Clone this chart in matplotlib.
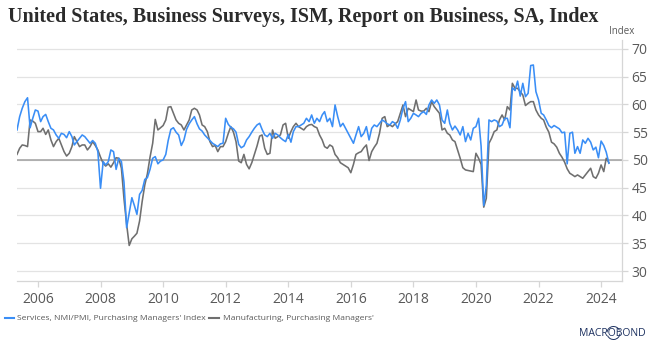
import matplotlib
matplotlib.use("Agg")
import matplotlib.pyplot as plt
import matplotlib.dates as mdates
from matplotlib.patches import Arc
import pandas as pd

# ISM Services PMI, monthly, May 2005 - Apr 2024
services = [
    55.4, 57.8, 59.3, 60.5, 61.2, 55.8, 57.5, 59.0,                      # 2005 (May-Dec)
    58.8, 56.9, 57.8, 58.2, 56.9, 55.7, 55.4, 54.5, 53.9, 54.8, 54.6, 54.0,  # 2006
    55.1, 54.2, 52.7, 53.3, 53.9, 54.5, 54.2, 53.6, 53.0, 53.5, 53.0, 51.5,  # 2007
    44.9, 49.7, 49.1, 49.7, 51.8, 51.5, 48.3, 50.3, 49.7, 46.0, 37.8, 40.5,  # 2008
    43.2, 41.7, 40.2, 43.8, 44.5, 46.5, 46.8, 48.3, 50.3, 50.6, 49.3, 49.8,  # 2009
    50.0, 51.0, 53.5, 55.5, 55.8, 55.0, 54.5, 52.6, 53.6, 55.5, 56.5, 57.2,  # 2010
    57.8, 56.5, 55.6, 55.2, 54.5, 54.0, 53.5, 53.0, 52.7, 52.4, 52.9, 53.0,  # 2011
    57.5, 56.4, 55.9, 55.6, 55.0, 52.8, 52.2, 52.5, 53.6, 54.2, 55.0, 55.7,  # 2012
    56.3, 56.6, 55.5, 54.5, 54.2, 54.8, 53.9, 54.8, 54.5, 54.0, 53.6, 53.3,  # 2013
    54.6, 53.2, 55.1, 56.0, 56.0, 56.3, 56.6, 57.5, 56.9, 58.1, 56.6, 57.5,  # 2014
    56.9, 58.1, 58.7, 56.9, 57.5, 56.0, 59.9, 57.8, 56.0, 56.6, 55.7, 54.8,  # 2015
    53.9, 53.0, 54.5, 56.0, 54.2, 54.8, 56.0, 53.6, 55.7, 56.3, 56.0, 56.6,  # 2016
    57.2, 56.9, 56.5, 56.3, 56.9, 56.6, 55.7, 57.2, 59.3, 60.5, 56.9, 57.5,  # 2017
    58.4, 58.1, 57.8, 58.4, 58.7, 58.2, 59.9, 60.8, 60.2, 60.8, 59.9, 57.2,  # 2018
    56.6, 59.0, 56.6, 55.4, 56.1, 55.4, 54.5, 56.0, 53.3, 54.8, 53.6, 55.7,  # 2019
    56.0, 57.5, 52.5, 41.8, 45.4, 57.2, 56.9, 57.2, 57.0, 56.0, 56.3, 57.5,  # 2020
    57.5, 55.8, 63.0, 62.5, 64.2, 61.5, 63.8, 61.4, 62.0, 67.0, 67.1, 62.3,  # 2021
    60.8, 58.4, 58.1, 57.2, 56.2, 55.8, 56.2, 55.9, 55.6, 54.9, 55.0, 49.3,  # 2022
    54.8, 55.0, 51.2, 52.4, 51.2, 53.6, 53.0, 53.9, 53.2, 51.8, 52.3, 50.4,  # 2023
    53.4, 52.6, 51.4, 49.4,                                                  # 2024 (Jan-Apr)
]

# ISM Manufacturing PMI, same months
manufacturing = [
    51.0, 52.1, 52.7, 52.6, 52.4, 57.2, 57.0, 56.6,
    55.1, 55.1, 55.7, 54.6, 55.4, 53.6, 52.4, 53.3, 53.9, 52.7, 51.5, 50.7,
    51.2, 52.4, 54.2, 53.3, 52.4, 52.7, 52.7, 51.8, 52.4, 53.3, 52.6, 51.8,
    50.5, 49.4, 48.9, 49.3, 48.7, 49.5, 50.4, 50.3, 48.5, 43.0, 38.4, 34.6,
    35.8, 36.3, 36.8, 39.0, 42.5, 45.5, 47.5, 50.5, 53.0, 57.3, 55.4, 55.8,
    56.2, 57.2, 59.5, 59.6, 58.4, 57.2, 56.6, 56.3, 55.4, 56.3, 57.2, 59.0,
    59.3, 59.0, 58.1, 56.3, 56.0, 55.1, 53.3, 52.4, 52.6, 51.5, 52.4, 52.4,
    53.3, 54.8, 56.0, 55.0, 53.3, 49.8, 49.5, 51.0, 49.2, 48.4, 49.5, 51.0,
    52.5, 54.3, 54.5, 52.1, 51.0, 51.2, 55.4, 53.9, 54.2, 54.5, 56.3, 56.6,
    53.9, 55.1, 56.0, 56.6, 56.0, 55.7, 55.4, 56.0, 56.3, 56.4, 56.0, 55.8,
    54.5, 53.6, 52.4, 52.1, 52.7, 52.4, 51.0, 50.4, 49.5, 49.2, 48.9, 48.6,
    47.7, 49.2, 51.0, 51.3, 51.5, 52.2, 52.7, 49.9, 51.5, 52.3, 53.0, 54.8,
    57.5, 57.8, 56.0, 56.3, 56.0, 56.5, 56.9, 58.4, 59.9, 57.8, 59.3, 59.0,
    58.7, 60.8, 59.0, 58.8, 58.8, 59.3, 58.7, 60.5, 59.6, 59.0, 58.4, 55.4,
    55.7, 54.8, 54.5, 53.6, 53.3, 51.8, 50.3, 48.6, 48.2, 48.1, 48.0, 47.9,
    51.2, 50.3, 49.2, 41.5, 43.1, 53.0, 53.9, 55.1, 55.4, 57.2, 58.1, 57.2,
    59.6, 59.0, 63.8, 62.9, 62.9, 62.3, 61.7, 59.8, 60.2, 60.5, 60.5, 59.0,
    58.1, 57.5, 57.2, 55.9, 55.0, 53.2, 52.9, 52.3, 51.2, 50.5, 49.6, 48.4,
    47.6, 47.3, 47.0, 47.3, 47.0, 46.7, 47.3, 47.9, 48.5, 47.0, 46.7, 47.6,
    49.1, 47.9, 50.3, 49.5,
]

dates = pd.date_range("2005-05-01", periods=len(services), freq="MS")
year_ticks = pd.to_datetime([f"{y}-01-01" for y in range(2006, 2025, 2)])

blue = "#3a8ef6"
grey = "#6f6f6f"
light = "#e3e3e3"
label_col = "#595959"
navy = "#1d3160"

fig = plt.figure(figsize=(6.52, 3.46), dpi=100)
ax = fig.add_axes([17 / 652, 65 / 346, 605 / 652, 241 / 346])

ax.plot(dates, manufacturing, color=grey, lw=1.15, zorder=3)
ax.plot(dates, services, color=blue, lw=1.15, zorder=4)
ax.axhline(50, color="#a0a0a0", lw=1.1, zorder=2)

ax.set_xlim(pd.Timestamp("2005-05-01"), pd.Timestamp("2024-09-01"))
ax.set_ylim(28.2, 71.6)
ax.set_yticks(range(30, 75, 5))
ax.set_xticks(year_ticks)
ax.xaxis.set_major_formatter(mdates.DateFormatter("%Y"))

ax.yaxis.tick_right()
ax.grid(axis="y", color=light, lw=0.9, zorder=1)
for side in ("top", "left"):
    ax.spines[side].set_visible(False)
for side in ("right", "bottom"):
    ax.spines[side].set_color("#d6d6d6")
    ax.spines[side].set_linewidth(0.9)
ax.tick_params(axis="y", length=4, width=0.9, color="#d6d6d6", pad=3,
               labelsize=10, labelcolor=label_col)
ax.tick_params(axis="x", length=4, width=0.9, color="#d6d6d6", pad=4,
               labelsize=10, labelcolor=label_col)
for lbl in ax.get_xticklabels() + ax.get_yticklabels():
    lbl.set_fontfamily("Open Sans")

fig.text(8 / 652, 1 - 22 / 346, "United States, Business Surveys, ISM, Report on Business, SA, Index",
         fontsize=14.5, fontweight="bold", family="Liberation Serif", color="#2b2b2b",
         va="baseline", ha="left")
fig.text(634 / 652, 1 - 32 / 346, "Index", fontsize=7, family="Open Sans",
         color=label_col, ha="right", va="center")

# legend along the bottom
leg_y = 1 - 318 / 346
fig.add_artist(plt.Line2D([5 / 652, 14 / 652], [leg_y, leg_y], color=blue, lw=1.5))
fig.text(17 / 652, leg_y, "Services, NMI/PMI, Purchasing Managers' Index", fontsize=6.1,
         family="Open Sans", color=label_col, va="center", ha="left")
fig.add_artist(plt.Line2D([209 / 652, 219 / 652], [leg_y, leg_y], color=grey, lw=1.5))
fig.text(223 / 652, leg_y, "Manufacturing, Purchasing Managers'", fontsize=6.1,
         family="Open Sans", color=label_col, va="center", ha="left")

# logo: wordmark with a swoosh round the first O
logo_y = 1 - 333 / 346
fig.text(646 / 652, logo_y, "MACROBOND", fontsize=7.5, family="Open Sans",
         color=navy, ha="right", va="center")
for t1, t2 in ((40, 170), (220, 350)):
    fig.add_artist(Arc((613.5 / 652, logo_y), 13 / 652, 13 / 346, theta1=t1, theta2=t2,
                       color=navy, lw=0.7, transform=fig.transFigure))

fig.savefig("out.png", dpi=100)
